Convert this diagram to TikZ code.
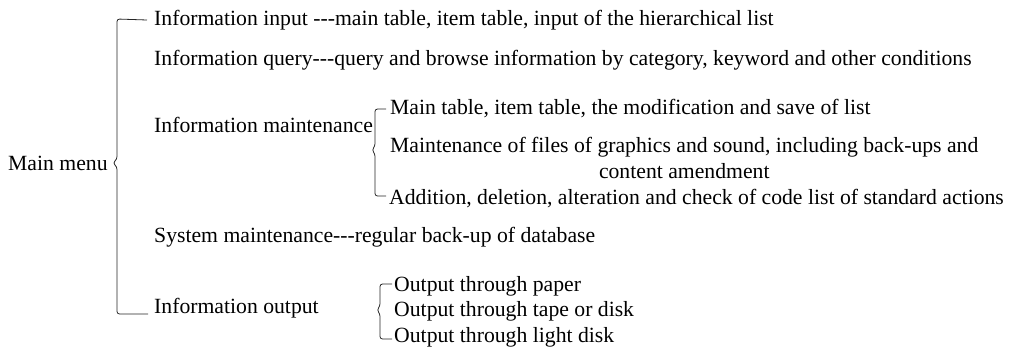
\documentclass[tikz,border=0pt]{standalone}
\usepackage{fontspec}
\setmainfont{Liberation Serif}
\begin{document}
\begin{tikzpicture}[x=1pt,y=-1pt,
  every node/.style={inner sep=0pt,font=\fontsize{21.7}{26}\selectfont},
  item/.style={anchor=west},
  brace/.style={draw=black!85,line width=0.8pt,rounded corners=2.5pt}]
\useasboundingbox (0,0) rectangle (1010,349);
% root
\node[item] (menu) at (8,163) {Main menu};
% first level
\node[item] (input) at (154,20) {Information input {-}{-}{-}main table, item table, input of the hierarchical list};
\node[item] (query) at (154,60) {Information query{-}{-}{-}query and browse information by category, keyword and other conditions};
\node[item] (maint) at (154,125) {Information maintenance};
\node[item] (system) at (154,237) {System maintenance{-}{-}{-}regular back-up of database};
\node[item] (output) at (154,308) {Information output};
% second level, maintenance
\node[item] (mtab) at (390,109) {Main table, item table, the modification and save of list};
\node[item,align=center] (mfile) at (390,158) {Maintenance of files of graphics and sound, including back-ups and\\content amendment};
\node[item] (madd) at (389,199) {Addition, deletion, alteration and check of code list of standard actions};
% second level, output
\node[item] (opaper) at (394,286) {Output through paper};
\node[item] (otape) at (394,311) {Output through tape or disk};
\node[item] (olight) at (394,337) {Output through light disk};
% braces
\coordinate (mtip) at (113,163);
\draw[brace] ([xshift=-7]input.west) -- (117,19) -- (117,159) -- (mtip) -- (117,167) -- (117,314) -- ([xshift=-6]output.west |- 0,314);
\coordinate (ttip) at (372,150);
\draw[brace] ([xshift=-4]mtab.west) -- (375,109) -- (375,146) -- (ttip) -- (375,154) -- (375,196) -- ([xshift=-3]madd.west |- 0,196);
\coordinate (otip) at (377,310);
\draw[brace] ([xshift=-2]opaper.west |- 0,284) -- (380,284) -- (380,306) -- (otip) -- (380,314) -- (380,339) -- ([xshift=-2]olight.west |- 0,339);
\end{tikzpicture}
\end{document}
